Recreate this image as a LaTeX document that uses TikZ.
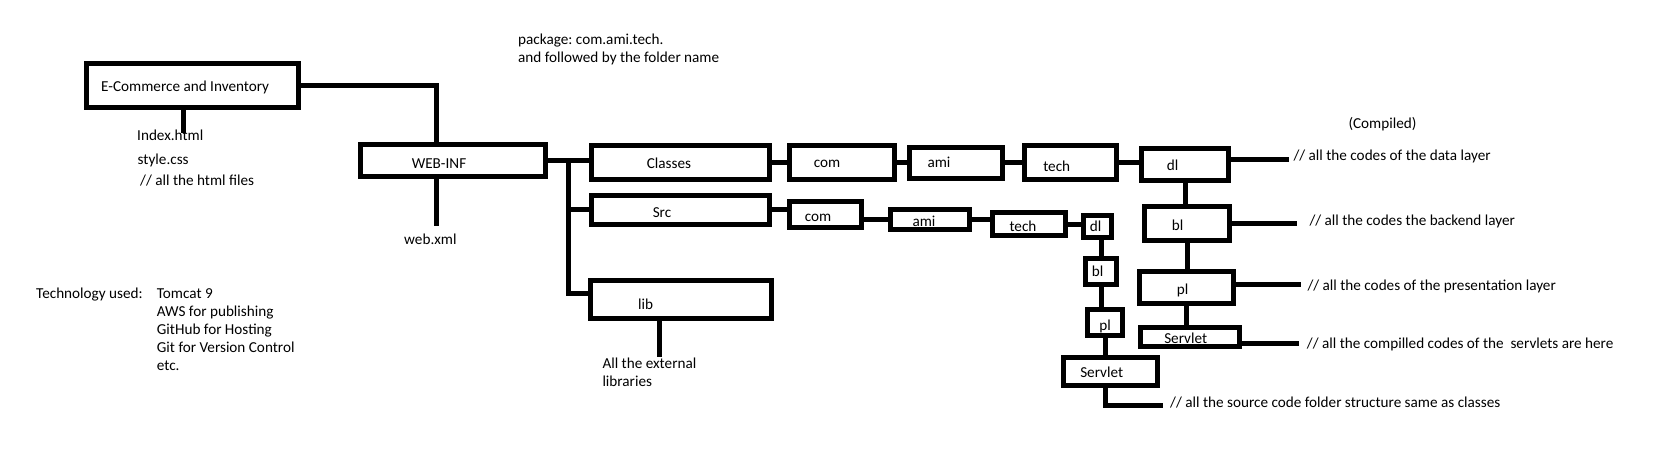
\documentclass[tikz,border=0pt]{standalone}
\usepackage{fontspec}
\setmainfont{Carlito}
\usetikzlibrary{calc}
\frenchspacing
\newcommand{\diagfont}{\fontsize{15.2}{18}\selectfont}
\tikzset{
  folder/.style={draw=black, line width=5pt, inner sep=0pt},
  link/.style={draw=black, line width=5pt},
  txt/.style={inner sep=0pt, text height=10pt, text depth=0pt, font=\diagfont},
  note/.style={txt, anchor=west}
}

\begin{document}
\begin{tikzpicture}[x=1pt, y=-1pt]
  % Canvas (pixel grid of the sketch)
  \fill[white] (0,0) rectangle (1660,472);

  % Notes at the top
  \node[note] (pkg1) at (518,39) {package: com.ami.tech.};
  \node[note] (pkg2) at (518,57) {and followed by the folder name};
  \node[txt] (compiled) at (1382.5,123) {(Compiled)};

  % Project root and its files
  \node[folder, minimum width=211.7, minimum height=44.3] (ecom) at (192.3,85.3) {};
  \node[note] (ecomtxt) at (101,86.5) {E-Commerce and Inventory};
  \node[note] (index) at (137,135) {Index.html};
  \node[note] (style) at (137.5,159) {style.css};
  \node[note] (html) at (140,180) {// all the html files};

  % WEB-INF
  \node[folder, minimum width=184.7, minimum height=32.6] (webinf) at (452.8,160.5) {};
  \node[txt] (webinftxt) at (439,163) {WEB-INF};
  \node[note] (webxml) at (404,239) {web.xml};

  % Technology used
  \node[note] (techused) at (36,293) {Technology used:};
  \foreach \tool [count=\i from 0] in {Tomcat 9, AWS for publishing, GitHub for Hosting, Git for Version Control, etc.}
    \node[note] (tool\i) at (156.7,293+18.2*\i) {\tool};

  % Classes / Src / lib
  \node[folder, minimum width=177.7, minimum height=34] (classes) at (680.3,162.2) {};
  \node[txt] (classestxt) at (669,163) {Classes};
  \node[folder, minimum width=178, minimum height=29] (src) at (680.5,209.7) {};
  \node[txt] (srctxt) at (662,212.5) {Src};
  \node[folder, minimum width=181, minimum height=37.7] (lib) at (681.3,299.7) {};
  \node[txt] (libtxt) at (645.7,304) {lib};
  \node[note] (ext1) at (602.3,363.3) {All the external};
  \node[note] (ext2) at (602.3,381.7) {libraries};

  % Compiled package chain
  \node[folder, minimum width=105, minimum height=34] (comC) at (841.7,162.8) {};
  \node[txt] (comCtxt) at (827,162) {com};
  \node[folder, minimum width=93.3, minimum height=30.7] (amiC) at (955.8,162.8) {};
  \node[txt] (amiCtxt) at (939,162) {ami};
  \node[folder, minimum width=92.3, minimum height=33.4] (techC) at (1070.3,162.5) {};
  \node[txt] (techCtxt) at (1056.7,166.5) {tech};
  \node[folder, minimum width=86.7, minimum height=32] (dlC) at (1185.2,164.2) {};
  \node[txt] (dlCtxt) at (1172.7,165) {dl};
  \node[folder, minimum width=85.6, minimum height=33.4] (blC) at (1187,223.5) {};
  \node[txt] (blCtxt) at (1177.7,225) {bl};
  \node[folder, minimum width=93.7, minimum height=31.7] (plC) at (1186.7,287.7) {};
  \node[txt] (plCtxt) at (1182.7,289.3) {pl};
  \node[folder, minimum width=98.4, minimum height=19.3] (servC) at (1190,337.2) {};
  \node[txt] (servCtxt) at (1185.7,338.3) {Servlet};

  % Source package chain
  \node[folder, minimum width=72.3, minimum height=25.7] (comS) at (825.3,214.7) {};
  \node[txt] (comStxt) at (818,216.5) {com};
  \node[folder, minimum width=78.7, minimum height=20] (amiS) at (929.8,219.2) {};
  \node[txt] (amiStxt) at (924,221.5) {ami};
  \node[folder, minimum width=73, minimum height=23.3] (techS) at (1029,224.2) {};
  \node[txt] (techStxt) at (1023,226.7) {tech};
  \node[folder, minimum width=28.3, minimum height=21.7] (dlS) at (1097.7,226.7) {};
  \node[txt] (dlStxt) at (1095.7,226.7) {dl};
  \node[folder, minimum width=30.7, minimum height=26] (blS) at (1101.2,271.2) {};
  \node[txt] (blStxt) at (1097.7,271.7) {bl};
  \node[folder, minimum width=35, minimum height=26.6] (plS) at (1105,322.5) {};
  \node[txt] (plStxt) at (1105,325) {pl};
  \node[folder, minimum width=94.3, minimum height=27.7] (servS) at (1110.3,371.3) {};
  \node[txt] (servStxt) at (1101.7,372.3) {Servlet};

  % Comments on the right
  \node[note] (cdata) at (1293.3,155) {// all the codes of the data layer};
  \node[note] (cback) at (1309.3,220) {// all the codes the backend layer};
  \node[note] (cpres) at (1307.3,285) {// all the codes of the presentation layer};
  \node[note] (cserv) at (1306.7,343.3) {// all the compilled codes of the~ servlets are here};
  \node[note] (csrc) at (1170,402.3) {// all the source code folder structure same as classes};

  % Root connectors
  \draw[link] (ecom.east) -| ([xshift=-16]webinf.north);
  \draw[link] ([xshift=-9.3]ecom.south) -- ++(0,23.2);
  \draw[link] ([xshift=-16]webinf.south) -- ++(0,47);

  % WEB-INF fork
  \coordinate (fork) at ($(webinf.east)+(20.9,0)$);
  \draw[link] (webinf.east) -- (webinf.east -| classes.west);
  \draw[link] (fork) |- ([yshift=6]lib.west);
  \draw[link] (fork |- src.west) -- (src.west);
  \draw[link] ([xshift=-22.3]lib.south) -- ++(0,35.7);

  % Compiled chain
  \draw[link] (classes.east) -- (classes.east -| comC.west);
  \draw[link] (comC.east) -- (comC.east -| amiC.west);
  \draw[link] (amiC.east) -- (amiC.east -| techC.west);
  \draw[link] (techC.east) -- (techC.east -| dlC.west);
  \draw[link] (dlC.south) -- (dlC.south |- blC.north);
  \draw[link] (blC.south) -- (blC.south |- plC.north);
  \draw[link] (plC.south) -- (plC.south |- servC.north);
  \draw[link] ([yshift=5]dlC.east) -- ++(57.7,0);
  \draw[link] (blC.east) -- ++(65,0);
  \draw[link] ([yshift=3]plC.east) -- ++(65,0);
  \draw[link] ([yshift=-6]servC.east) -- ++(57,0);

  % Source chain
  \draw[link] (src.east) -- (src.east -| comS.west);
  \draw[link] (amiS.west -| comS.east) -- (amiS.west);
  \draw[link] (amiS.east) -- (amiS.east -| techS.west);
  \draw[link] (techS.east) -- (techS.east -| dlS.west);
  \draw[link] (blS.north |- dlS.south) -- (blS.north);
  \draw[link] (blS.south) -- (blS.south |- plS.north);
  \draw[link] (plS.south) -- (plS.south |- servS.north);
  \draw[link] (plS.south |- servS.south) |- ++(57.6,18.3);
\end{tikzpicture}
\end{document}
